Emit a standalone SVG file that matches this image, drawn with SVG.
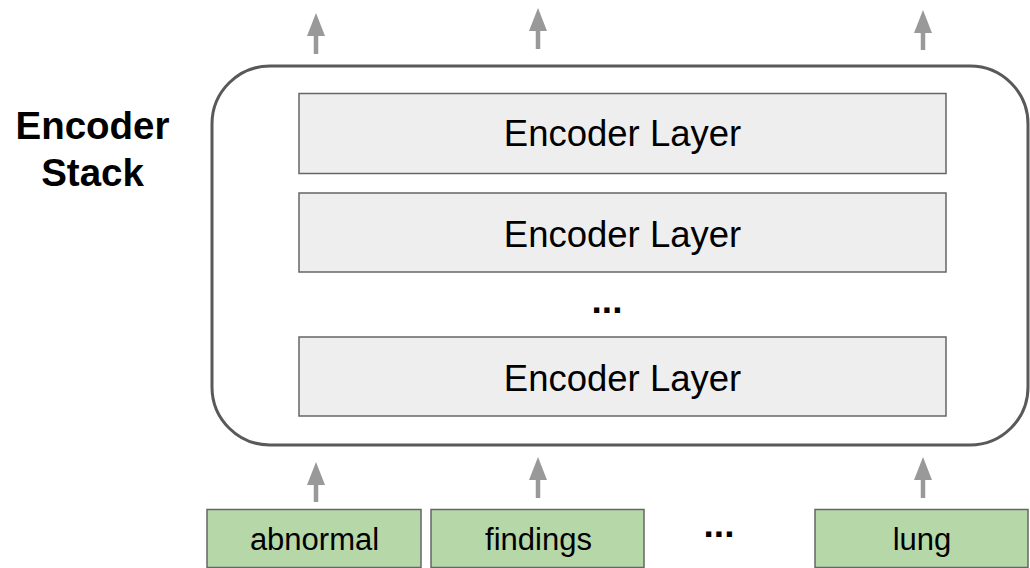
<svg xmlns="http://www.w3.org/2000/svg" width="1030" height="568" viewBox="0 0 1030 568">
<style>
.layer{fill:#eeeeee;stroke:#666666;stroke-width:1.5}
.tok{fill:#b6d7a8;stroke:#666666;stroke-width:1.5}
.t{font-family:"Liberation Sans",Arial,sans-serif;fill:#000;text-anchor:middle}
.lt{font-size:36.5px}
.tt{font-size:31px}
.b{font-weight:bold;font-size:38.5px}
.d{font-weight:bold;font-size:37px}
.arr{stroke:#999999;stroke-width:4.5;fill:none;marker-end:url(#ah)}
</style>
<defs>
<marker id="ah" markerUnits="userSpaceOnUse" markerWidth="23" markerHeight="18" refX="0" refY="9" orient="auto" viewBox="0 0 23 18">
<path d="M0,0 L23,9 L0,18 Z" fill="#999999"/>
</marker>
</defs>
<rect width="1030" height="568" fill="#ffffff"/>
<g id="label">
<text class="t b" x="92.5" y="139">Encoder</text>
<text class="t b" x="92.5" y="186">Stack</text>
</g>
<g id="stack">
<rect x="212" y="66" width="816" height="379" rx="58" ry="58" fill="none" stroke="#595959" stroke-width="3"/>
</g>
<g id="layer1">
<rect class="layer" x="299" y="93.5" width="647" height="80"/>
<text class="t lt" x="622.5" y="146">Encoder Layer</text>
</g>
<g id="layer2">
<rect class="layer" x="299" y="193" width="647" height="79"/>
<text class="t lt" x="622.5" y="247">Encoder Layer</text>
</g>
<g id="dots1">
<text class="t d" x="607" y="313">...</text>
</g>
<g id="layer3">
<rect class="layer" x="299" y="337" width="647" height="79"/>
<text class="t lt" x="622.5" y="391">Encoder Layer</text>
</g>
<g id="tok1">
<rect class="tok" x="207" y="509.5" width="214" height="58"/>
<text class="t tt" x="314.5" y="550">abnormal</text>
</g>
<g id="tok2">
<rect class="tok" x="431" y="509.5" width="213" height="58"/>
<text class="t tt" x="538.5" y="550">findings</text>
</g>
<g id="dots2">
<text class="t d" x="719" y="537">...</text>
</g>
<g id="tok3">
<rect class="tok" x="815" y="509.5" width="213" height="58"/>
<text class="t tt" x="922" y="550">lung</text>
</g>
<g id="connectors">
<line class="arr" x1="316" y1="54" x2="316" y2="36"/>
<line class="arr" x1="538" y1="49" x2="538" y2="31"/>
<line class="arr" x1="923" y1="50" x2="923" y2="33"/>
<line class="arr" x1="316" y1="502" x2="316" y2="485"/>
<line class="arr" x1="538" y1="498" x2="538" y2="480"/>
<line class="arr" x1="923" y1="498" x2="923" y2="480"/>
</g>
</svg>
